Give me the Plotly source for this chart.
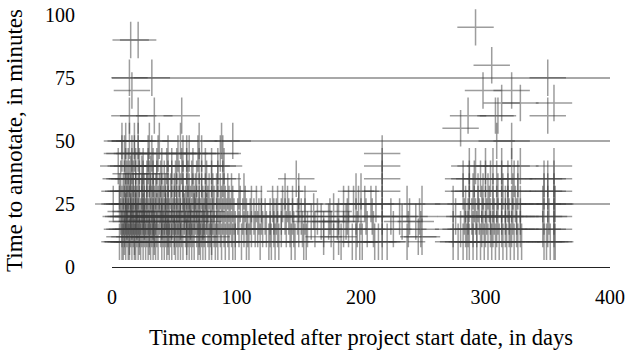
import plotly.graph_objects as go

# Days (after project start) at which tasks were completed, grouped by the
# time (in minutes) that the annotation took.
minute_levels = [10, 12, 15, 18, 20, 22, 25, 30, 35, 37, 40, 45, 50, 55, 60, 65, 70, 75, 80, 90, 95]

days_10 = [6, 8, 9, 11, 13, 14, 16, 18, 19, 21, 23, 25, 27, 29, 31, 33, 35, 37, 40, 42, 44, 46, 48,
           51, 53, 55, 57, 60, 62, 64, 66, 69, 71, 73, 75, 78, 80, 83, 85, 88, 91, 94, 97, 99,
           104, 108, 110, 119, 126, 128, 131, 134, 144, 147, 154, 156, 178, 184, 193, 196, 199, 201,
           211, 214, 217, 221, 237,
           274, 278, 282, 285, 287, 290, 293, 296, 299, 302, 305, 308, 311, 314, 317, 320, 323, 326, 329,
           347, 349, 352, 355, 356]
days_12 = [10, 14, 18, 22, 30, 34, 45, 50, 60, 70, 80, 170, 182, 246, 249]
days_15 = [8, 10, 12, 15, 17, 20, 22, 24, 26, 28, 30, 32, 34, 36, 39, 41, 43, 45, 47, 50, 52, 54, 56,
           59, 61, 63, 65, 68, 70, 72, 74, 77, 79, 82, 84, 87, 90, 93, 96, 99,
           102, 106, 109, 112, 115, 117, 121, 124, 127, 130, 133, 136, 140, 143, 146, 150, 153, 157,
           163, 170, 176, 186, 190, 197, 205, 210, 217, 226, 238, 248,
           274, 280, 284, 286, 290, 293, 297, 300, 304, 306, 309, 313, 316, 319, 321, 325, 328,
           346, 350, 355]
days_18 = [12, 16, 20, 26, 33, 40, 48, 55, 63, 73, 160, 168, 174, 181, 188, 233, 244]
days_20 = [7, 9, 11, 13, 15, 17, 19, 21, 23, 25, 27, 29, 31, 33, 35, 38, 40, 42, 44, 46, 49, 51, 53,
           55, 58, 60, 62, 64, 67, 69, 71, 74, 76, 79, 81, 84, 86, 89, 92, 95, 98,
           101, 105, 108, 111, 114, 118, 120, 123, 127, 130, 132, 136, 139, 142, 145, 149, 152, 155,
           165, 175, 182, 189, 196, 200, 204, 209, 217, 224, 231, 239, 247,
           276, 283, 286, 289, 292, 295, 298, 301, 304, 307, 310, 313, 316, 319, 322, 325, 328,
           347, 351, 355]
days_22 = [11, 15, 19, 25, 36, 43, 58, 66, 76, 162, 178]
days_25 = [1, 6, 8, 10, 12, 14, 16, 18, 20, 22, 24, 26, 28, 30, 32, 34, 37, 39, 41, 43, 45, 48, 50,
           52, 54, 57, 59, 61, 63, 66, 68, 70, 73, 75, 77, 80, 82, 85, 88, 91, 94, 97,
           103, 107, 112, 116, 120, 129, 133, 137, 141, 145, 150, 155,
           186, 190, 194, 198, 203, 208, 212, 217, 237, 249,
           274, 284, 287, 291, 294, 297, 300, 303, 306, 309, 313, 316, 318, 321, 324, 328,
           346, 350, 355, 356]
days_30 = [6, 9, 11, 13, 15, 17, 19, 21, 24, 26, 28, 31, 33, 35, 38, 40, 43, 45, 47, 50, 52, 55, 57,
           60, 62, 65, 67, 70, 72, 75, 78, 81, 84, 87, 90, 93, 96,
           102, 106, 139, 150, 196, 200, 217,
           282, 287, 290, 294, 298, 302, 306, 310, 314, 318, 322, 326,
           347, 350, 355]
days_35 = [7, 10, 12, 14, 17, 19, 22, 25, 28, 30, 33, 36, 39, 42, 45, 48, 51, 54, 57, 61, 64, 68,
           72, 76, 80, 85, 89, 148, 217,
           282, 287, 291, 296, 300, 304, 309, 313, 318, 323, 326,
           347, 350, 355]
days_37 = [15, 24, 31]
days_40 = [5, 11, 13, 16, 19, 22, 25, 29, 33, 36, 40, 44, 48, 52, 56, 60, 65, 70, 75, 80, 85, 90,
           217, 287, 292, 300, 306, 313, 321, 328, 355]
days_45 = [8, 10, 16, 18, 21, 29, 32, 37, 45, 53, 57, 60, 62, 69, 72, 87, 89, 217]
days_50 = [8, 11, 14, 18, 21, 30, 38, 55, 70, 88, 97, 309, 321]
days_55 = [280]
days_60 = [14, 21, 34, 56, 286, 308, 310, 350]
days_65 = [313, 328, 355]
days_70 = [16, 298, 321]
days_75 = [14, 32, 350]
days_80 = [305]
days_90 = [15, 21]
days_95 = [292]

day_groups = [days_10, days_12, days_15, days_18, days_20, days_22, days_25, days_30, days_35,
              days_37, days_40, days_45, days_50, days_55, days_60, days_65, days_70, days_75,
              days_80, days_90, days_95]

x_vals, y_vals = [], []
for level, group in zip(minute_levels, day_groups):
    for d in group:
        x_vals.append(d)
        y_vals.append(level)

FONT = "Liberation Serif"

fig = go.Figure()
fig.add_trace(go.Scatter(
    x=x_vals, y=y_vals, mode="markers",
    marker=dict(symbol="cross-thin", size=26,
                line=dict(color="rgba(60,60,60,0.5)", width=1.5)),
    cliponaxis=False, hoverinfo="x+y", showlegend=False,
))

fig.update_layout(
    width=636, height=350,
    margin=dict(l=112, r=26, t=14, b=83),
    paper_bgcolor="white", plot_bgcolor="white",
    font=dict(family=FONT, size=20, color="black"),
    xaxis=dict(
        range=[0, 400], tickvals=[0, 100, 200, 300, 400],
        showgrid=False, zeroline=False, automargin=False,
        showline=True, linecolor="#222222", linewidth=1,
        ticks="outside", ticklen=12, tickcolor="rgba(0,0,0,0)",
        tickfont=dict(family=FONT, size=20), ticklabeloverflow="allow",
        title=dict(text="Time completed after project start date, in days",
                   font=dict(family=FONT, size=22.5), standoff=23),
    ),
    yaxis=dict(
        range=[0, 100.3], tickvals=[0, 25, 50, 75, 100],
        showgrid=True, gridcolor="#a8a8a8", gridwidth=2,
        zeroline=False, showline=False, automargin=False,
        ticks="outside", ticklen=32, tickcolor="rgba(0,0,0,0)",
        tickfont=dict(family=FONT, size=20), ticklabeloverflow="allow",
        title=dict(text="Time to annotate, in minutes",
                   font=dict(family=FONT, size=23), standoff=15),
    ),
)

fig.write_html(
    "out.html",
    config={"displayModeBar": False},
    post_script="document.body.style.margin='0';document.body.style.overflow='hidden';",
)
